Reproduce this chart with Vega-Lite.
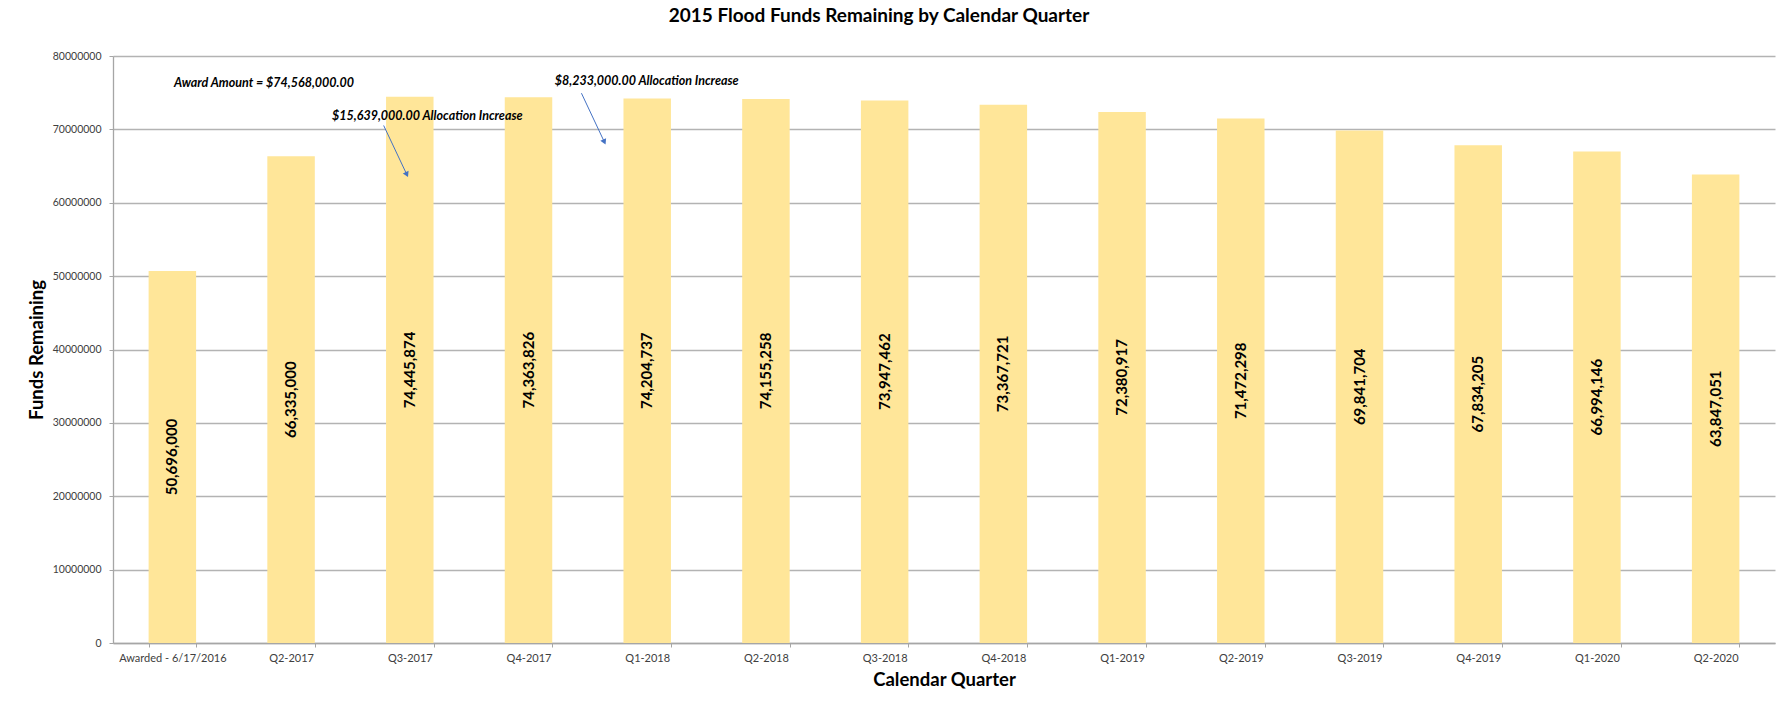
{
  "$schema": "https://vega.github.io/schema/vega-lite/v6.json",
  "width": 1662,
  "height": 587,
  "autosize": {"type": "none"},
  "padding": {"left": 113, "top": 56, "right": 10, "bottom": 64},
  "background": "white",
  "config": {"font": "Lato", "view": {"stroke": null}},
  "title": {
    "text": "2015 Flood Funds Remaining by Calendar Quarter",
    "fontSize": 19,
    "fontWeight": "bold",
    "color": "black",
    "dx": -65,
    "offset": 25
  },
  "datasets": {
    "funds": [
      {"quarter": "Awarded - 6/17/2016", "value": 50696000},
      {"quarter": "Q2-2017", "value": 66335000},
      {"quarter": "Q3-2017", "value": 74445874},
      {"quarter": "Q4-2017", "value": 74363826},
      {"quarter": "Q1-2018", "value": 74204737},
      {"quarter": "Q2-2018", "value": 74155258},
      {"quarter": "Q3-2018", "value": 73947462},
      {"quarter": "Q4-2018", "value": 73367721},
      {"quarter": "Q1-2019", "value": 72380917},
      {"quarter": "Q2-2019", "value": 71472298},
      {"quarter": "Q3-2019", "value": 69841704},
      {"quarter": "Q4-2019", "value": 67834205},
      {"quarter": "Q1-2020", "value": 66994146},
      {"quarter": "Q2-2020", "value": 63847051}
    ],
    "notes": [
      {"label": "Award Amount = $74,568,000.00", "pos": 0.514, "amount": 76290000},
      {"label": "$15,639,000.00 Allocation Increase", "pos": 1.845, "amount": 71800000},
      {"label": "$8,233,000.00 Allocation Increase", "pos": 3.721, "amount": 76530000}
    ],
    "arrows": [
      {"pos": 2.28, "amount": 70530000, "pos2": 2.472, "amount2": 63950000},
      {"pos": 3.946, "amount": 74930000, "pos2": 4.136, "amount2": 68390000}
    ]
  },
  "layer": [
    {
      "data": {"name": "funds"},
      "encoding": {
        "x": {
          "field": "quarter",
          "type": "nominal",
          "sort": null,
          "title": "Calendar Quarter",
          "scale": {"paddingInner": 0.6, "paddingOuter": 0.3},
          "axis": {
            "labelAngle": 0,
            "tickBand": "extent",
            "tickSize": 4,
            "tickColor": "#a6a6a6",
            "domainColor": "#a6a6a6",
            "domainWidth": 1.3,
            "labelFontSize": 11,
            "labelColor": "#404040",
            "labelPadding": 5,
            "titleFontSize": 18.5,
            "titleFontWeight": "bold",
            "titleColor": "black",
            "titlePadding": 7,
            "grid": false
          }
        }
      },
      "layer": [
        {
          "mark": {"type": "bar", "color": "#FFE699"},
          "encoding": {
            "y": {
              "field": "value",
              "type": "quantitative",
              "title": "Funds Remaining",
              "scale": {"domain": [0, 80000000], "nice": false},
              "axis": {
                "values": [0, 10000000, 20000000, 30000000, 40000000, 50000000, 60000000, 70000000, 80000000],
                "format": "d",
                "grid": true,
                "gridColor": "#b3b3b3",
                "gridWidth": 1.3,
                "domainColor": "#a6a6a6",
                "domainWidth": 1.3,
                "tickColor": "#a6a6a6",
                "tickSize": 4,
                "labelPadding": 8,
                "labelFontSize": 10.5,
                "labelColor": "#404040",
                "titleFontSize": 18.5,
                "titleFontWeight": "bold",
                "titleColor": "black",
                "titlePadding": 6
              }
            }
          }
        },
        {
          "transform": [{"calculate": "datum.value / 2", "as": "mid"}],
          "mark": {
            "type": "text",
            "angle": -90,
            "align": "center",
            "baseline": "middle",
            "fontSize": 15,
            "fontWeight": "bold",
            "color": "black"
          },
          "encoding": {
            "y": {
              "field": "mid",
              "type": "quantitative",
              "title": "Funds Remaining",
              "scale": {"domain": [0, 80000000], "nice": false}
            },
            "text": {"field": "value", "type": "quantitative", "format": ","}
          }
        }
      ]
    },
    {
      "layer": [
        {
          "data": {"name": "notes"},
          "mark": {
            "type": "text",
            "align": "left",
            "baseline": "middle",
            "fontSize": 12.5,
            "fontWeight": "bold",
            "fontStyle": "italic",
            "color": "black"
          },
          "encoding": {
            "x": {"field": "pos", "type": "quantitative", "scale": {"domain": [0, 14], "nice": false, "zero": false}, "axis": null},
            "y": {"field": "amount", "type": "quantitative", "title": "Funds Remaining", "scale": {"domain": [0, 80000000], "nice": false}},
            "text": {"field": "label"}
          }
        },
        {
          "data": {"name": "arrows"},
          "mark": {"type": "rule", "color": "#4472C4", "strokeWidth": 1},
          "encoding": {
            "x": {"field": "pos", "type": "quantitative", "scale": {"domain": [0, 14], "nice": false, "zero": false}, "axis": null},
            "y": {"field": "amount", "type": "quantitative", "title": "Funds Remaining", "scale": {"domain": [0, 80000000], "nice": false}},
            "x2": {"field": "pos2"},
            "y2": {"field": "amount2"}
          }
        },
        {
          "data": {"name": "arrows"},
          "mark": {"type": "point", "shape": "triangle", "angle": 155, "filled": true, "size": 40, "color": "#4472C4", "opacity": 1},
          "encoding": {
            "x": {"field": "pos2", "type": "quantitative", "scale": {"domain": [0, 14], "nice": false, "zero": false}, "axis": null},
            "y": {"field": "amount2", "type": "quantitative", "title": "Funds Remaining", "scale": {"domain": [0, 80000000], "nice": false}}
          }
        }
      ]
    }
  ],
  "resolve": {"scale": {"x": "independent"}}
}
